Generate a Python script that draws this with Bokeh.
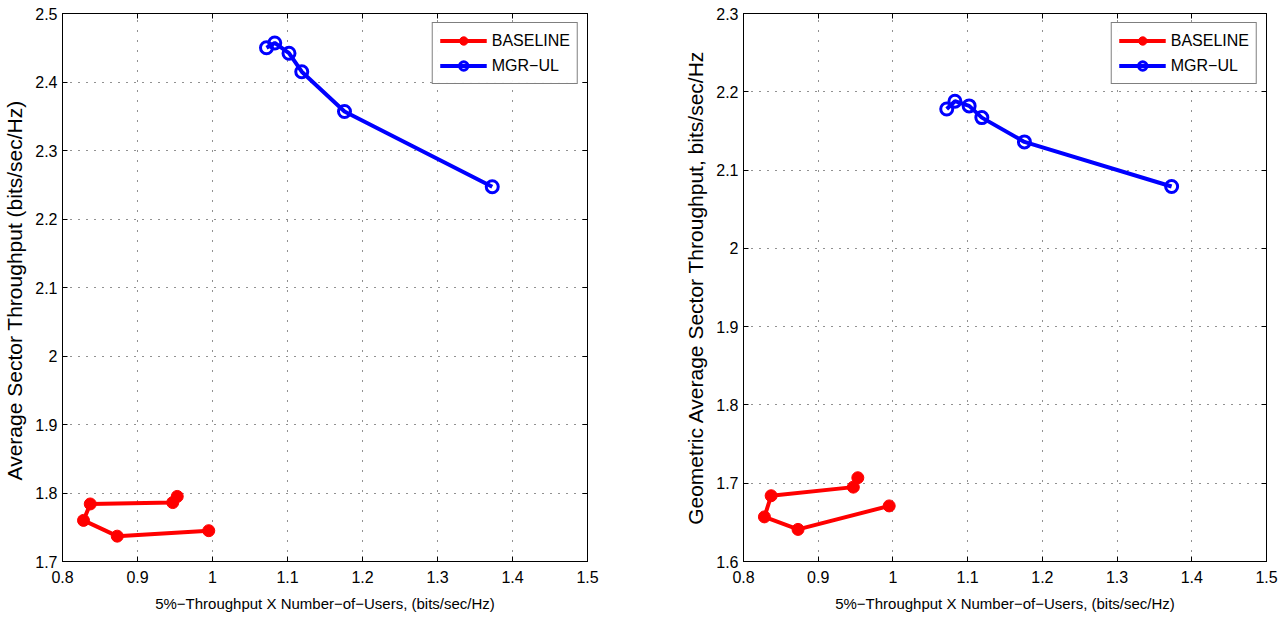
from bokeh.plotting import figure
from bokeh.layouts import row
from bokeh.models import FixedTicker, LinearAxis, Legend, LegendItem
from bokeh.embed import file_html
from bokeh.resources import INLINE

# 5%-throughput x number of users (x) for each scheme
base_x = [0.953, 0.947, 0.837, 0.828, 0.873, 0.995]
mgr_x = [1.072, 1.083, 1.102, 1.119, 1.176, 1.373]

# Average sector throughput (left panel)
base_avg = [1.795, 1.786, 1.784, 1.760, 1.737, 1.745]
mgr_avg = [2.450, 2.457, 2.442, 2.415, 2.357, 2.247]

# Geometric average sector throughput (right panel)
base_geo = [1.707, 1.695, 1.684, 1.657, 1.641, 1.671]
mgr_geo = [2.178, 2.188, 2.182, 2.167, 2.136, 2.079]

x_ticks = [0.8, 0.9, 1.0, 1.1, 1.2, 1.3, 1.4, 1.5]
x_labels = ["0.8", "0.9", "1", "1.1", "1.2", "1.3", "1.4", "1.5"]
y1_ticks = [1.7, 1.8, 1.9, 2.0, 2.1, 2.2, 2.3, 2.4, 2.5]
y1_labels = ["1.7", "1.8", "1.9", "2", "2.1", "2.2", "2.3", "2.4", "2.5"]
y2_ticks = [1.6, 1.7, 1.8, 1.9, 2.0, 2.1, 2.2, 2.3]
y2_labels = ["1.6", "1.7", "1.8", "1.9", "2", "2.1", "2.2", "2.3"]

x_title = "5%\u2212Throughput X Number\u2212of\u2212Users, (bits/sec/Hz)"
names = ["BASELINE", "MGR\u2212UL"]

FONT = "Liberation Sans"


def style_axis(ax, ticks, labels, show_labels=True):
    ax.ticker = FixedTicker(ticks=ticks)
    ax.major_label_overrides = {t: l for t, l in zip(ticks, labels)}
    ax.major_tick_in = 5
    ax.major_tick_out = 0
    ax.minor_tick_line_color = None
    ax.axis_line_color = "black"
    ax.major_tick_line_color = "black"
    ax.major_label_text_font = FONT
    ax.major_label_text_color = "black"
    if show_labels:
        ax.major_label_text_font_size = "16px"
        ax.major_label_standoff = 9
    else:
        ax.major_label_text_font_size = "1px"
        ax.major_label_text_alpha = 0
        ax.major_label_standoff = 0


def make_panel(width, left, right, yr, yt, yl, ylabel, by, my):
    p = figure(width=width, height=617, x_range=(0.8, 1.5), y_range=yr,
               output_backend="svg", toolbar_location=None,
               min_border_left=left, min_border_right=right,
               min_border_top=13, min_border_bottom=56)
    p.outline_line_color = "black"
    p.outline_line_width = 1
    p.background_fill_color = "white"
    p.border_fill_color = "white"

    style_axis(p.xaxis[0], x_ticks, x_labels)
    style_axis(p.yaxis[0], yt, yl)
    p.yaxis[0].major_label_standoff = 5
    p.xaxis[0].axis_label = x_title
    p.xaxis[0].axis_label_text_font = FONT
    p.xaxis[0].axis_label_text_font_size = "15px"
    p.xaxis[0].axis_label_text_font_style = "normal"
    p.xaxis[0].axis_label_text_color = "black"
    p.xaxis[0].axis_label_standoff = 9
    p.yaxis[0].axis_label = ylabel
    p.yaxis[0].axis_label_text_font = FONT
    p.yaxis[0].axis_label_text_font_size = "21px"
    p.yaxis[0].axis_label_text_font_style = "normal"
    p.yaxis[0].axis_label_text_color = "black"
    p.yaxis[0].axis_label_standoff = 6

    top = LinearAxis()
    style_axis(top, x_ticks, x_labels, show_labels=False)
    p.add_layout(top, "above")
    rgt = LinearAxis()
    style_axis(rgt, yt, yl, show_labels=False)
    p.add_layout(rgt, "right")

    for g in p.grid:
        g.grid_line_color = "#222222"
        g.grid_line_width = 1
    p.xgrid.grid_line_dash = "1 9"
    p.ygrid.grid_line_dash = "1 7"
    p.xgrid.ticker = FixedTicker(ticks=x_ticks)
    p.ygrid.ticker = FixedTicker(ticks=yt)

    l1 = p.line(base_x, by, line_color="red", line_width=4)
    s1 = p.scatter(base_x, by, marker="circle", size=12, fill_color="red",
                   line_color="red", line_width=1)
    l2 = p.line(mgr_x, my, line_color="blue", line_width=4)
    s2 = p.scatter(mgr_x, my, marker="circle", size=12, fill_color=None,
                   line_color="blue", line_width=3)

    legend = Legend(items=[LegendItem(label=names[0], renderers=[l1, s1]),
                           LegendItem(label=names[1], renderers=[l2, s2])],
                    location="top_right")
    legend.label_text_font = FONT
    legend.label_text_font_size = "16px"
    legend.label_text_color = "black"
    legend.glyph_width = 47
    legend.glyph_height = 21
    legend.spacing = 4
    legend.padding = 7
    legend.margin = 9
    legend.border_line_color = "black"
    legend.border_line_width = 1
    legend.label_standoff = 5
    p.add_layout(legend, "center")
    return p


p1 = make_panel(640, 62, 53, (1.7, 2.5), y1_ticks, y1_labels,
                "Average Sector Throughput  (bits/sec/Hz)", base_avg, mgr_avg)
p2 = make_panel(646, 103, 20, (1.6, 2.3), y2_ticks, y2_labels,
                "Geometric Average Sector Throughput, bits/sec/Hz", base_geo, mgr_geo)

layout = row(p1, p2, spacing=0)
open("out.html", "w").write(file_html(layout, INLINE))
